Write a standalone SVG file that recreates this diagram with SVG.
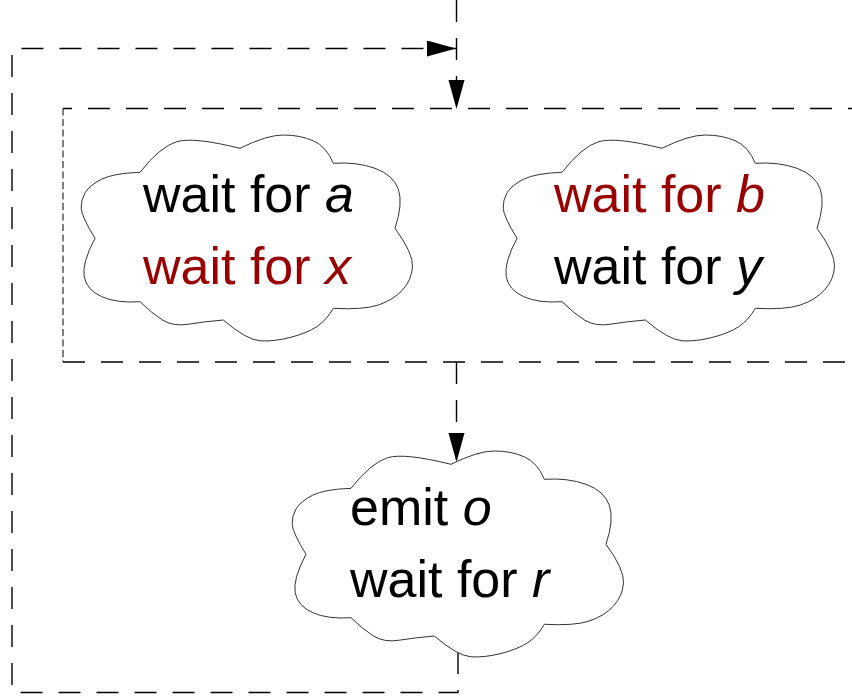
<svg xmlns="http://www.w3.org/2000/svg" xmlns:xlink="http://www.w3.org/1999/xlink" width="852" height="696" viewBox="0 0 852 696">
<style>
.cloud{fill:#fff;stroke:#333;stroke-width:1}
.t{font-family:"Liberation Sans",Arial,sans-serif;font-size:52px;fill:#000}
.r{fill:#990000}
.i{font-style:italic}
.dash{fill:none;stroke:#000;stroke-width:1.4;stroke-dasharray:22 16}
.fine{fill:none;stroke:#000;stroke-width:1;stroke-dasharray:7 3.5}
</style>
<defs>
<path id="cloudShape" d="M140,172.3 Q160,146.7 176.7,141.7 Q193.3,136.7 240,148.3 Q266.7,135 283.3,135 Q300,135 313.3,140.8 Q326.7,146.7 333.3,163.3 Q356.7,161.7 375,168.3 Q393.3,175 398.3,189.2 Q403.3,203.3 395,228.3 Q413.3,253.3 412.5,266.7 Q411.7,280 402.5,290 Q393.3,300 378.3,305 Q363.3,310 333.3,308.3 Q326.7,320 316.7,326.7 Q306.7,333.3 290,337.5 Q273.3,341.7 260,340.8 Q246.7,340 223.3,320 Q203.3,321.7 188.3,324.2 Q173.3,326.7 162.5,320 Q151.7,313.3 140,301.7 Q116.7,303.3 101.7,296.7 Q86.7,290 84.2,276.7 Q81.7,263.3 95,238.3 Q81.7,216.7 81.2,208.3 Q80.7,200 85.3,192.5 Q90,185 101.7,179.2 Q113.3,173.3 140,172.3 Z"/>
<marker id="arr" markerUnits="userSpaceOnUse" markerWidth="30" markerHeight="17" refX="29" refY="8" orient="auto" viewBox="0 0 30 17">
<path d="M0,0 L29,8 L0,16 Z" fill="#000" stroke="none"/>
</marker>
</defs>
<g id="connectors">
<line class="dash" x1="456.5" y1="0" x2="456.5" y2="109"/>
<path d="M456.5,30 L456.5,109" fill="none" stroke="none" marker-end="url(#arr)"/>
<path class="dash" d="M458,652 L458,692.5 L12,692.5 L12,48.5 L456,48.5"/>
<path d="M440,48.5 L456,48.5" fill="none" stroke="none" marker-end="url(#arr)"/>
<line class="dash" x1="456.5" y1="362" x2="456.5" y2="462"/>
<path d="M456.5,420 L456.5,462" fill="none" stroke="none" marker-end="url(#arr)"/>
</g>
<g id="parallel">
<path class="dash" d="M870,108.5 L63,108.5"/>
<path class="dash" d="M63,362 L870,362"/>
<path class="fine" d="M63,108.5 L63,362"/>
</g>
<g id="cloud-left">
<use xlink:href="#cloudShape" href="#cloudShape" class="cloud"/>
<text class="t" x="143" y="212">wait for <tspan class="i">a</tspan></text>
<text class="t r" x="143" y="284">wait for <tspan class="i">x</tspan></text>
</g>
<g id="cloud-right">
<use xlink:href="#cloudShape" href="#cloudShape" class="cloud" transform="translate(422,0)"/>
<text class="t r" x="554" y="212">wait for <tspan class="i">b</tspan></text>
<text class="t" x="554" y="284">wait for <tspan class="i">y</tspan></text>
</g>
<g id="cloud-bottom">
<use xlink:href="#cloudShape" href="#cloudShape" class="cloud" transform="translate(211,316)"/>
<text class="t" x="350" y="525">emit <tspan class="i">o</tspan></text>
<text class="t" x="350" y="597">wait for <tspan class="i">r</tspan></text>
</g>
</svg>
